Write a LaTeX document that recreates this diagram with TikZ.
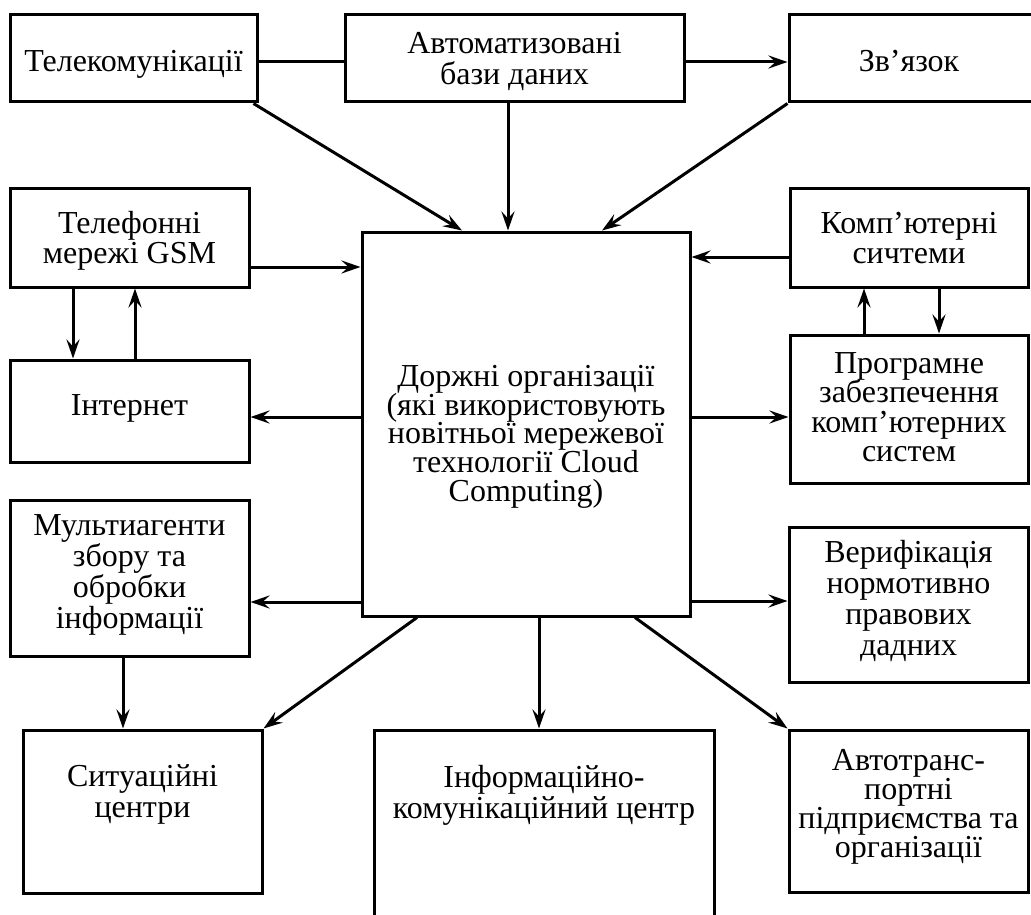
\documentclass[tikz,border=0pt]{standalone}
\usepackage{fontspec}
\setmainfont{Liberation Serif}
\usetikzlibrary{arrows.meta,calc}
\begin{document}
\lineskiplimit=-100pt\relax
\begin{tikzpicture}[x=1pt,y=-1pt,
  box/.style={draw,line width=3pt,minimum width=#1,align=center,inner sep=0pt,
    font=\fontsize{32}{30.5}\selectfont},
  lsk/.style={font=\fontsize{32}{#1}\selectfont},
  tup/.style={text height=0pt,text depth=#1},
  tdn/.style={text height=#1,text depth=0pt},
  arr/.style={line width=3pt,-{Stealth[length=19pt,width=13pt,inset=7pt]}},
  lnk/.style={line width=3pt}]
\useasboundingbox (0,0) rectangle (1031,915);
\clip (0,0) rectangle (1031,915);
\node[box=247pt,minimum height=87pt,tdn=26pt] (tel) at (133.5,58.5) {Телекомунікації};
\node[box=339pt,minimum height=87pt,lsk=31pt,tdn=53pt] (adb) at (514.5,58.5) {Автоматизовані\\бази даних};
\node[box=256pt,minimum height=87pt,tdn=27pt] (zv) at (917,58.5) {\hspace*{-16pt}Зв’язок};
\node[box=239pt,minimum height=99pt,lsk=30pt,tdn=51pt] (gsm) at (129.5,237.5) {Телефонні\\мережі GSM};
\node[box=239pt,minimum height=102pt,tdn=8pt] (inet) at (129.5,411) {Інтернет};
\node[box=328pt,minimum height=384pt,lsk=28.6pt,tdn=154pt] (cen) at (526,424) {Доржні організації\\(які використовують\\новітньої мережевої\\технології Cloud\\Computing)};
\node[box=238pt,minimum height=99pt,lsk=30pt,tdn=51pt] (komp) at (909,237.5) {Комп’ютерні\\сичтеми};
\node[box=238pt,minimum height=148pt,lsk=29.5pt,tdn=105pt] (prog) at (909,409) {Програмне\\забезпечення\\комп’ютерних\\систем};
\node[box=239pt,minimum height=156pt,lsk=31pt,tdn=100pt] (multi) at (129.5,578) {Мультиагенти\\збору та\\обробки\\інформації};
\node[box=239pt,minimum height=155pt,lsk=30.7pt,tdn=101pt] (verif) at (908.5,604.5) {Верифікація\\нормотивно\\правових\\дадних};
\node[box=239pt,minimum height=163pt,lsk=31pt,tdn=11pt] (sit) at (142.5,811.5) {Ситуаційні\\центри};
\node[box=340pt,minimum height=220pt,lsk=31pt,tup=44pt] (info) at (544,840) {Інформаційно-\\комунікаційний центр};
\node[box=239pt,minimum height=162pt,lsk=29pt,tdn=92pt] (auto) at (908.5,811) {Автотранс-\\портні\\підприємства та\\організації};

\draw[lnk] (tel.east |- 0,62) -- (adb.west |- 0,62);
\draw[arr] (adb.east |- 0,62) -- (zv.west |- 0,62);
\draw[arr] (adb.south -| 508,0) -- (cen.north -| 508,0);
\draw[arr] ([xshift=-5pt]tel.south east) -- (cen.north -| 462,0);
\draw[arr] (zv.south west) -- (cen.north -| 602,0);
\draw[arr] (gsm.east |- 0,267) -- (cen.west |- 0,267);
\draw[arr] (gsm.south -| 73,0) -- (inet.north -| 73,0);
\draw[arr] (inet.north -| 135,0) -- (gsm.south -| 135,0);
\draw[arr] (cen.west |- 0,417) -- (inet.east |- 0,417);
\draw[arr] (komp.west |- 0,257) -- (cen.east |- 0,257);
\draw[arr] (prog.north -| 864,0) -- (komp.south -| 864,0);
\draw[arr] (komp.south -| 939,0) -- (prog.north -| 939,0);
\draw[arr] (cen.east |- 0,417) -- (prog.west |- 0,417);
\draw[arr] (cen.west |- 0,602) -- (multi.east |- 0,602);
\draw[arr] (cen.east |- 0,601) -- (verif.west |- 0,601);
\draw[arr] (multi.south -| 123,0) -- (sit.north -| 123,0);
\draw[arr] (cen.south -| 417,0) -- (sit.north east);
\draw[arr] (cen.south -| 539,0) -- (info.north -| 539,0);
\draw[arr] (cen.south -| 635,0) -- (auto.north west);
\end{tikzpicture}
\end{document}
